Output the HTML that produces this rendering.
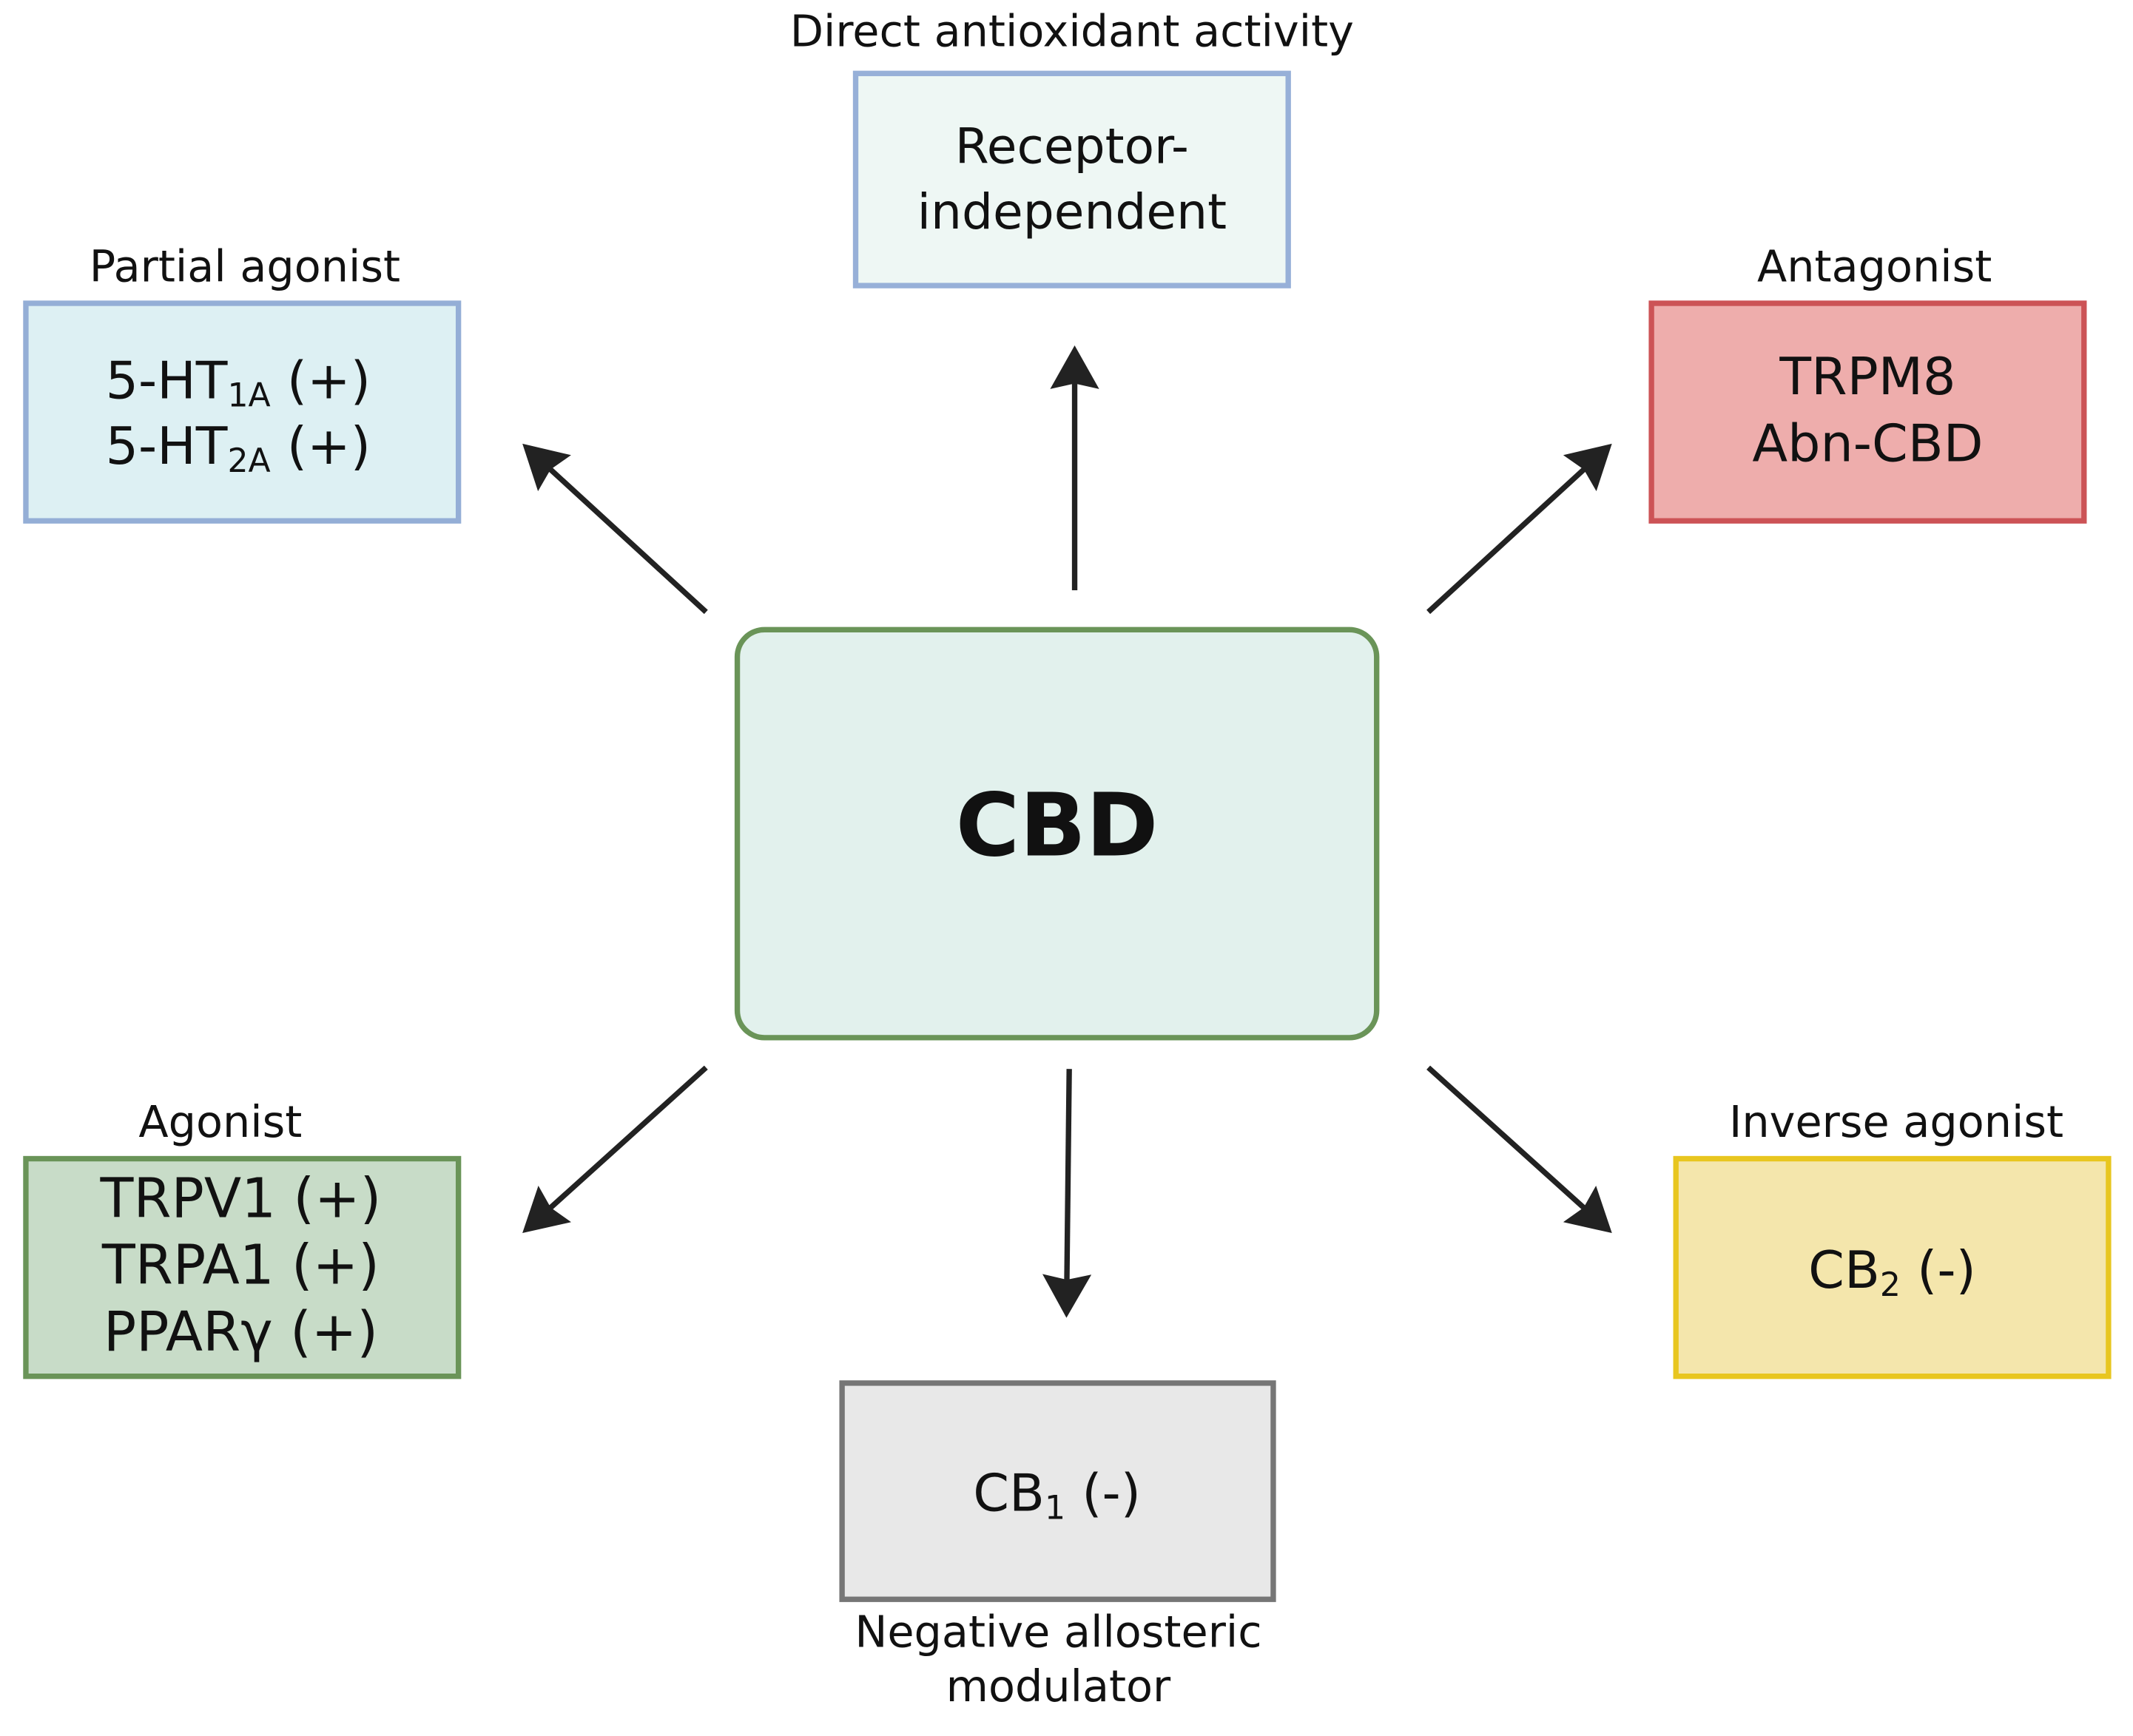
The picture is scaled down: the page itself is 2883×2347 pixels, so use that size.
<!DOCTYPE html>
<html><head><meta charset="utf-8"><style>html,body{margin:0;padding:0;background:#fff}svg{display:block}</style></head>
<body>
<svg width="2883" height="2347" viewBox="0 0 1568 1276.5" xmlns="http://www.w3.org/2000/svg">
<defs>
<marker id="ah" markerWidth="9" markerHeight="9" refX="7" refY="4.5" orient="auto" markerUnits="strokeWidth">
<path d="M0,0 L8,4.5 L0,9 L1,4.5 Z" fill="#222"/>
</marker>
</defs>
<g font-family="'DejaVu Sans', sans-serif" font-size="32" fill="#111" text-anchor="middle">
<text x="788" y="34">Direct antioxidant activity</text>
<text x="180" y="207">Partial agonist</text>
<text x="1378" y="207">Antagonist</text>
<text x="162" y="836">Agonist</text>
<text x="1394" y="836">Inverse agonist</text>
<text x="778" y="1211">Negative allosteric</text>
<text x="778" y="1251">modulator</text>
</g>
<g stroke-width="4">
<rect x="629" y="54" width="318" height="156" fill="#eef7f4" stroke="#97b0d8"/>
<rect x="19" y="223" width="318" height="160" fill="#ddf0f3" stroke="#94aed6"/>
<rect x="1214" y="223" width="318" height="160" fill="#eeadac" stroke="#cc5356"/>
<rect x="542" y="463" width="470" height="300" rx="20" fill="#e2f1ed" stroke="#6a9458"/>
<rect x="19" y="852" width="318" height="160" fill="#c8dcc8" stroke="#6a9458"/>
<rect x="1232" y="852" width="318" height="160" fill="#f4e6ac" stroke="#e8c61f"/>
<rect x="619" y="1017" width="317" height="159" fill="#e8e8e8" stroke="#767676"/>
</g>
<g font-family="'DejaVu Sans', sans-serif" font-size="38" fill="#111" text-anchor="middle">
<text x="788" y="120" font-size="36">Receptor-</text>
<text x="788" y="168" font-size="36">independent</text>
<text x="175" y="293">5-HT<tspan font-size="24" dy="6">1A</tspan><tspan dy="-6"> (+)</tspan></text>
<text x="175" y="341">5-HT<tspan font-size="24" dy="6">2A</tspan><tspan dy="-6"> (+)</tspan></text>
<text x="1373" y="290">TRPM8</text>
<text x="1373" y="339">Abn-CBD</text>
<text x="777" y="629" font-size="64" font-weight="bold">CBD</text>
<text x="177" y="895" font-size="40">TRPV1 (+)</text>
<text x="177" y="944" font-size="40">TRPA1 (+)</text>
<text x="177" y="993" font-size="40">PPARγ (+)</text>
<text x="1391" y="947">CB<tspan font-size="24" dy="6">2</tspan><tspan dy="-6"> (-)</tspan></text>
<text x="777" y="1111">CB<tspan font-size="24" dy="6">1</tspan><tspan dy="-6"> (-)</tspan></text>
</g>
<g stroke="#222" stroke-width="4" marker-end="url(#ah)" fill="none">
<line x1="790" y1="434" x2="790" y2="258"/>
<line x1="519" y1="450" x2="387" y2="329"/>
<line x1="1050" y1="450" x2="1182" y2="329"/>
<line x1="519" y1="785" x2="387" y2="904"/>
<line x1="786" y1="786" x2="784" y2="965"/>
<line x1="1050" y1="785" x2="1182" y2="904"/>
</g>
</svg>
</body></html>
